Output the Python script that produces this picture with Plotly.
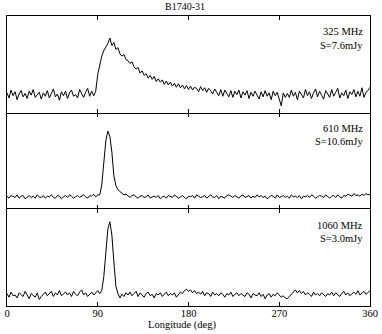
import plotly.graph_objects as go
from plotly.subplots import make_subplots

# pulse longitude (deg), one sample every 2 deg
longitude = list(range(0, 361, 2))

# intensity in percent of peak (baseline = 0)
prof_325 = [
    3, -6, 8, -2, 5, -9, 1, 7, -4, 2,
    -7, 6, -1, 9, -5, 0, 4, -8, 3, -3,
    7, -6, 2, 10, -4, 1, -10, 5, -2, 6,
    -7, 3, 8, -3, 0, -6, 9, 2, -5, 4,
    11, -3, 6, -2,
    6, 36, 55, 68, 78, 83, 90, 100, 87, 92,
    80, 83, 72, 68, 71, 62, 60, 55, 58, 49,
    45, 48, 38, 42, 34, 37, 29, 34, 27, 32,
    23, 28, 22, 26, 18, 24, 17, 22, 15, 20,
    13, 19, 12, 17, 10, 16, 9, 15, 8, 13,
    11, 5, 14, 7, 12, 4, 11, 7, 1, 10,
    5, -2, 9, -3, 8, 3, -4, 7, -5, 6,
    0, 8, -6, 5, -1, 7, -7, 4, -3, 6,
    0, -8, 5, -4, 7, -3, 3, -9, 6, -2,
    4, -10, -20, 3, -5,
    2, -5, 8, -3, 4, -9, 6, 1, -6, 9,
    -2, 5, -7, 3, 10, -4, 6, -1, -8, 7,
    2, -5, 9, -3, 4, 11, -6, 3, -2, 8,
    -7, 5, 0, 9, -4, 6, -3, 12, -5, 4,
    7, 13,
]

prof_610 = [
    1, -2, 2, 0, -1, 3, -2, 1, 2, -3,
    0, 2, -1, 1, -2, 3, 0, -1, 2, -2,
    1, 0, 3, -1, -2, 2, 1, -3, 0, 2,
    -1, 3, 1, -2, 0, 2, -1, 1, 3, 0,
    -2, 2, 1, 4, 0, 3,
    3, 18, 50, 85, 100, 92, 68, 32, 17, 11, 8, 6, 3, 4,
    1, -1, 2, 3, 0, -2, 1, 2, -1, 0,
    3, -2, 0, 1, -1, 2, -3, 0, 1, -2,
    2, 0, -1, 3, 1, -2, 0, 2, -1, -3,
    1, 0, 2, -2, 3, 1, -1, 0, 2, -2,
    1, 3, 0, -1, 2, -3, 1, 0, -2, 2,
    3, 1, -1, 2, 0, -2, 1, 3, -1, 0,
    2, -2, 1, -1, 3, 0, 2, -1, 1, -3,
    0, 2, 1, -2, 3, -1, 0, 2, -1, 1,
    -2, 3, 0, 1, -1, 2, -3, 1, 0, 2,
    -1, 3, 1, -2, 0, 2, 1, -1, 3, 0,
    -2, 1, 2, -1, 3, 0, -2, 2, 1, 4,
    3, 1, 5, 2, 3, 1, 4, 2, 5, 3,
    4,
]

prof_1060 = [
    2, -3, 4, -1, 0, -4, 3, 1, -2, 5,
    -1, -5, 2, 0, -3, 3, -6, -2, 1, 4,
    -1, 2, 5, -2, 3, 0, 6, -1, 2, 4,
    0, 3, -2, 5, 1, -1, 4, 7, 0, 3,
    -2, 1, 4, 0, 3, 6,
    2, 6, 25, 55, 90, 100, 82, 45, 12, 2,
    -4, 1, -2, 3, 0, 4, -1, 2, 5, -2,
    3, 0, -3, 2, 4, -1, 1, -4, 2, 0,
    3, -2, 1, 4, -1, 2, 0, 3, -3, 1,
    4, 2, 6, 8, 5, 7, 3, 6, 2, 4,
    1, 5, -1, 3, 2, -2, 4, 0, 2, -1,
    3, 1, -3, 2, 0, 4, -2, 1, 3, -1,
    2, 0, -2, 3, 1, -4, 2, 0, -1, 3,
    -2, 1, -5, 0, 2, -3, 1, -1, 3, 0,
    -3, -1, -4, -5, -2, 1, 4, 7, 3, 6,
    2, 5, 0, 3, 1, -2, 4, 0, 2, -1,
    3, 1, -2, 2, 0, 4, -1, 3, 1, -2,
    2, 5, 0, 3, -1, 2, 4, 1, 6, 0,
    3, 5, 1, 4, 6,
]

freq_labels = ["325 MHz", "610 MHz", "1060 MHz"]
flux_labels = ["S=7.6mJy", "S=10.6mJy", "S=3.0mJy"]
tick_values = [0, 90, 180, 270, 360]
tick_labels = ["0", "90", "180", "270", "360"]
title_text = "B1740-31"
xaxis_title = "Longitude (deg)"

profiles = [prof_325, prof_610, prof_1060]
for p in profiles:
    assert len(p) == len(longitude), len(p)

FONT = "Liberation Serif, Times New Roman, serif"

fig = make_subplots(rows=3, cols=1, shared_xaxes=True, vertical_spacing=0)

y_ranges = [[-32, 139], [-19, 128], [-15, 117]]

for i, prof in enumerate(profiles):
    fig.add_trace(
        go.Scatter(x=longitude, y=prof, mode="lines",
                   line=dict(color="black", width=1), showlegend=False,
                   hoverinfo="skip"),
        row=i + 1, col=1,
    )
    fig.update_yaxes(range=y_ranges[i], showticklabels=False, ticks="",
                     showgrid=False, zeroline=False, showline=True,
                     linecolor="black", linewidth=1, mirror=True,
                     row=i + 1, col=1)
    fig.update_xaxes(range=[0, 360], tickvals=tick_values, ticktext=tick_labels,
                     ticks="inside", ticklen=4, tickcolor="black", tickwidth=1,
                     showgrid=False, zeroline=False,
                     showline=(i != 1),
                     linecolor="black", linewidth=1, mirror="ticks",
                     showticklabels=(i == 2), ticklabelstandoff=-3,
                     tickfont=dict(family=FONT, size=10.5, color="black"),
                     row=i + 1, col=1)
    yref = "y domain" if i == 0 else f"y{i + 1} domain"
    xref = "x domain" if i == 0 else f"x{i + 1} domain"
    fig.add_annotation(text=freq_labels[i], xref=xref, yref=yref,
                       x=0.9865, y=0.835, xanchor="right", yanchor="middle",
                       showarrow=False,
                       font=dict(family=FONT, size=10.5, color="black"))
    fig.add_annotation(text=flux_labels[i], xref=xref, yref=yref,
                       x=0.9865, y=0.70, xanchor="right", yanchor="middle",
                       showarrow=False,
                       font=dict(family=FONT, size=10.5, color="black"))

fig.add_annotation(text=title_text, xref="paper", yref="paper",
                   x=0.489, y=1.0, yshift=10, xanchor="center",
                   yanchor="middle", showarrow=False,
                   font=dict(family=FONT, size=10, color="black"))
fig.add_annotation(text=xaxis_title, xref="paper", yref="paper",
                   x=0.482, y=0.0, yshift=-19, xanchor="center",
                   yanchor="middle", showarrow=False,
                   font=dict(family=FONT, size=10.5, color="black"))

fig.update_layout(
    width=382, height=334,
    margin=dict(l=4, r=9, t=16, b=28),
    paper_bgcolor="white", plot_bgcolor="white",
)

fig.write_html("out.html",
               config={"displayModeBar": False},
               post_script="document.body.style.margin='0';"
                           "document.body.style.padding='0';")
